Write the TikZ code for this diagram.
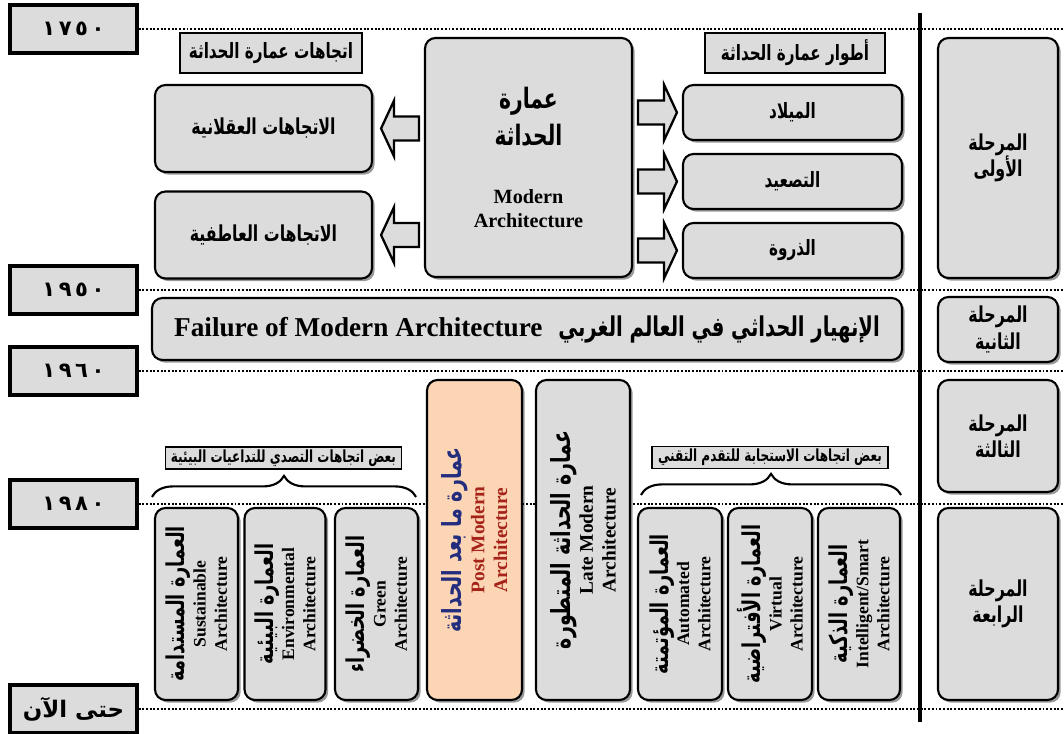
\documentclass[tikz,border=0pt]{standalone}
\usepackage{fontspec}
\setmainfont{Liberation Serif}
\newfontfamily\arabicfont[Script=Arabic,FakeStretch=0.72]{DejaVu Sans}
\newfontfamily\yearfont[Script=Arabic]{DejaVu Sans}
\TeXXeTstate=1
\usetikzlibrary{positioning,calc,shadows,decorations.pathreplacing}

\definecolor{boxgray}{RGB}{220,220,220}
\definecolor{peach}{RGB}{252,213,180}
\definecolor{pmblue}{RGB}{35,45,125}
\definecolor{pmred}{RGB}{165,35,25}
\newlength\pxu \setlength\pxu{0.02cm}
\newcommand\fsz[2]{\fontsize{#1}{#2}\selectfont}
\newcommand\artxt[1]{{\arabicfont\bfseries\beginR #1\endR}}
% hollow block arrow: tail, tip, 1 = to the left, -1 = to the right
\newcommand\hollowarrow[3]{%
  \draw[blockarrow] ($(#1)+(0,12)$) -- ($(#2)+(#3*13,12)$) -- ($(#2)+(#3*13,28)$) -- (#2)
    -- ($(#2)+(#3*13,-28)$) -- ($(#2)+(#3*13,-12)$) -- ($(#1)+(0,-12)$) -- cycle;}

\tikzset{
  sz/.style 2 args={minimum width=#1*\pxu,minimum height=#2*\pxu},
  yearbox/.style={draw,line width=1.8pt,fill=boxgray,sz={127}{48},font=\yearfont\bfseries\fsz{12}{14}},
  headbox/.style={draw,line width=1.1pt,fill=boxgray,inner sep=2pt,font=\fsz{12}{14}},
  rbox/.style={draw,line width=1.2pt,fill=boxgray,rounded corners=6pt,align=center,
    drop shadow={shadow xshift=1.5pt,shadow yshift=-1.5pt,opacity=.4,fill=black}},
  phase/.style={rbox,sz={120}{#1},font=\fsz{12.5}{15}},
  stage/.style={rbox,sz={219}{55},font=\fsz{12}{14}},
  trend/.style={rbox,sz={217}{87},font=\fsz{12.5}{15}},
  vtext/.style={rotate=90,align=center,font=\bfseries\fsz{10}{12}},
  tagbox/.style={draw,line width=.8pt,fill=boxgray,inner sep=1.5pt,sz={236}{20},font=\fsz{9.5}{11}},
  era/.style={densely dotted,line width=1.1pt},
  blockarrow/.style={draw,line width=1.3pt,fill=boxgray,line join=miter},
  grpbrace/.style={decorate,decoration={brace,amplitude=12pt},line width=1.2pt}
}

\begin{document}
\begin{tikzpicture}[x=0.02cm,y=-0.02cm]
\useasboundingbox (0,0) rectangle (1064,733);

% years
\node[yearbox] (y1750) at (73.5,29) {١\,٧\,٥\,٠};
\node[yearbox] (y1950) at (73.5,290) {١\,٩\,٥\,٠};
\node[yearbox] (y1960) at (73.5,371) {١\,٩\,٦\,٠};
\node[yearbox] (y1980) at (73.5,504) {١\,٩\,٨\,٠};
\node[yearbox,font=\yearfont\bfseries\fsz{13}{15}] (ynow) at (73.5,709) {\beginR حتى الآن\endR};
\coordinate (rim) at (1064,0);
\foreach \y in {y1750,y1950,y1960,y1980,ynow}
  \draw[era] (\y.east) -- (\y.east -| rim);
\coordinate (vtop) at (920,13);
\coordinate (vbot) at (920,722);
\draw[line width=2.2pt] (vtop) -- (vbot);

% phases
\node[phase=240] (ph1) at (998,158) {\artxt{المرحلة}\\\artxt{الأولى}};
\node[phase=65] (ph2) at (998,329.5) {\artxt{المرحلة}\\\artxt{الثانية}};
\node[phase=112] (ph3) at (998,436) {\artxt{المرحلة}\\\artxt{الثالثة}};
\node[phase=192] (ph4) at (998,604) {\artxt{المرحلة}\\\artxt{الرابعة}};

% modern architecture
\node[headbox,sz={182}{40}] (hdL) at (271,53) {\artxt{اتجاهات عمارة الحداثة}};
\node[headbox,sz={180}{40}] (hdR) at (795,53) {\artxt{أطوار عمارة الحداثة}};
\node[rbox,sz={207}{239},font=\fsz{16}{21}] (modern) at (528.5,157.5) {\artxt{عمارة}\\\artxt{الحداثة}\\[12pt]
  \bfseries\fsz{11.5}{13}Modern\\[-7pt]\bfseries\fsz{11.5}{13}Architecture};
\node[trend] (rational) at (263.5,128.5) {\artxt{الاتجاهات العقلانية}};
\node[trend] (emotional) at (263.5,235) {\artxt{الاتجاهات العاطفية}};
\node[stage] (birth) at (792.5,112.5) {\artxt{الميلاد}};
\node[stage] (rise) at (792.5,181.5) {\artxt{التصعيد}};
\node[stage] (peak) at (792.5,250.5) {\artxt{الذروة}};

\coordinate (a1s) at ($(modern.west |- rational.east)+(-5,0)$);
\coordinate (a1e) at ($(rational.east)+(8,0)$);
\coordinate (a2s) at ($(modern.west |- emotional.east)+(-5,0)$);
\coordinate (a2e) at ($(emotional.east)+(8,0)$);
\hollowarrow{a1s}{a1e}{1}
\hollowarrow{a2s}{a2e}{1}
\foreach \b in {birth,rise,peak}{
  \coordinate (s-\b) at ($(modern.east |- \b.west)+(5,0)$);
  \coordinate (e-\b) at ($(\b.west)+(-5,0)$);
  \hollowarrow{s-\b}{e-\b}{-1}
}

% failure
\node[rbox,sz={750}{62},font=\fsz{15.5}{18}] (failure) at (527,329) {{\bfseries Failure of Modern Architecture}\hspace{9pt}%
  \artxt{الإنهيار الحداثي في العالم الغربي}};

% post modern and late modern
\node[rbox,fill=peach,sz={95}{320}] (postmod) at (474.5,540) {};
\node[vtext,text=pmred,font=\bfseries\fsz{11}{13}] (postmod-t) at (postmod.center)
  {\textcolor{pmblue}{\fsz{15}{17}\artxt{عمارة ما بعد الحداثة}}\\Post Modern\\Architecture};
\node[rbox,sz={94}{320}] (latemod) at (583,540) {};
\node[vtext,font=\bfseries\fsz{11}{13}] (latemod-t) at (latemod.center)
  {{\fsz{15}{17}\artxt{عمارة الحداثة المتطورة}}\\Late Modern\\Architecture};

% environmental trends
\node[rbox,sz={83}{192}] (sust) at (196.5,604) {};
\node[rbox,sz={81}{192}] (envr) at (285,604) {};
\node[rbox,sz={83}{192}] (green) at (376.5,604) {};
\node[vtext] (sust-t) at (sust.center) {{\fsz{14}{15}\artxt{العمارة المستدامة}}\\Sustainable\\Architecture};
\node[vtext] (envr-t) at (envr.center) {{\fsz{14}{15}\artxt{العمارة البيئية}}\\Environmental\\Architecture};
\node[vtext] (green-t) at (green.center) {{\fsz{14}{15}\artxt{العمارة الخضراء}}\\Green\\Architecture};
\node[tagbox] (tagEnv) at (283.5,458) {\artxt{بعض اتجاهات التصدي للتداعيات البيئية}};
\draw[grpbrace] ($(sust.north west)+(-2,-10)$) -- ($(green.north east)+(-3,-10)$);

% technological trends
\node[rbox,sz={84}{192}] (autom) at (680,604) {};
\node[rbox,sz={84}{192}] (virt) at (770,604) {};
\node[rbox,sz={82}{192}] (smart) at (859,604) {};
\node[vtext] (autom-t) at (autom.center) {{\fsz{14}{15}\artxt{العمارة المؤتمتة}}\\Automated\\Architecture};
\node[vtext] (virt-t) at (virt.center) {{\fsz{14}{15}\artxt{العمارة الأفتراضية}}\\Virtual\\Architecture};
\node[vtext] (smart-t) at (smart.center) {{\fsz{14}{15}\artxt{العمارة الذكية}}\\Intelligent/Smart\\Architecture};
\node[tagbox] (tagTech) at (770,457.5) {\artxt{بعض اتجاهات الاستجابة للتقدم التقني}};
\draw[grpbrace] ($(autom.north west)+(4,-12)$) -- ($(smart.north east)+(0,-12)$);
\end{tikzpicture}
\end{document}
